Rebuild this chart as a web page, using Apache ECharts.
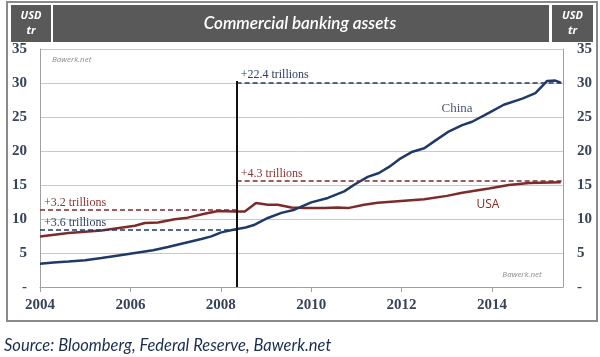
<!DOCTYPE html>
<html>
<head>
<meta charset="utf-8">
<script src="https://cdn.jsdelivr.net/npm/echarts@6/dist/echarts.min.js"></script>
<style>html,body{margin:0;padding:0;background:#fff}#c{width:600px;height:357px}</style>
</head>
<body>
<div id="c"></div>
<script>
// Decimal years and values (USD trillions)
var chinaYears = [2004.0,2004.3,2004.63,2005.0,2005.36,2005.7,2006.1,2006.5,2006.83,2007.2,2007.57,2007.79,2008.01,2008.3,2008.55,2008.75,2009.04,2009.34,2009.63,2010.0,2010.37,2010.73,2010.95,2011.25,2011.5,2011.73,2011.95,2012.24,2012.5,2012.76,2013.05,2013.34,2013.56,2013.93,2014.26,2014.67,2014.96,2015.22,2015.4,2015.52];
var chinaValues = [3.43,3.6,3.76,3.95,4.26,4.6,5.0,5.4,5.88,6.47,7.06,7.44,8.03,8.45,8.76,9.16,10.15,10.9,11.37,12.44,13.1,14.06,15.04,16.2,16.76,17.7,18.8,19.9,20.4,21.6,22.9,23.8,24.3,25.6,26.8,27.7,28.5,30.3,30.35,30.05];
var usaYears = [2004.0,2004.63,2005.36,2006.1,2006.32,2006.61,2006.98,2007.27,2007.64,2007.94,2008.3,2008.53,2008.78,2009.04,2009.26,2009.56,2009.85,2010.29,2010.58,2010.81,2011.17,2011.47,2012.06,2012.5,2013.0,2013.34,2013.93,2014.37,2014.82,2015.52];
var usaValues = [7.44,7.94,8.3,9.0,9.4,9.5,9.95,10.2,10.78,11.17,11.1,11.12,12.35,12.1,12.1,11.7,11.6,11.6,11.7,11.6,12.1,12.4,12.7,12.9,13.4,13.85,14.5,15.0,15.3,15.4];
var xTicks = [2004,2006,2008,2010,2012,2014];
var crisisYear = 2008.35;
var crisisTop = 30.3;
// reference lines
var refLabels = ['+3.2 trillions','+3.6 trillions','+4.3 trillions','+22.4 trillions'];
var refFrom = [2004, 2004, 2008.35, 2008.35];
var refTo = [2008.35, 2008.35, 2015.57, 2015.57];
var refValue = [11.35, 8.43, 15.6, 30.1];
var refKey = ['usa','china','usa','china'];

var NAVY = '#1f3a68', RED = '#7e2a2a', AX = '#36435a';
var xMin = 2004, xMax = 2015.57;

function pairs(xs, ys){ return xs.map(function(x,i){return [x, ys[i]];}); }

function refMark(key, extra){
  var d = [];
  refLabels.forEach(function(l,i){
    if(refKey[i]!==key) return;
    d.push([{coord:[refFrom[i], refValue[i]], name:l},{coord:[refTo[i], refValue[i]]}]);
  });
  if (extra) d = d.concat(extra);
  return {
    silent:true, symbol:['none','none'],
    lineStyle:{type:[5,3], width:1.6, color: key==='usa'?RED:NAVY},
    label:{show:true, position:'insideStartTop', distance:[4,1], formatter:'{b}',
      fontFamily:'Liberation Serif', fontSize:12, color: key==='usa'?'#8a3535':'#2c3f60'},
    data:d
  };
}

var crisisLine = [[
  {coord:[crisisYear, 0], name:'', lineStyle:{type:'solid', color:'#111', width:2}, label:{show:false}},
  {coord:[crisisYear, crisisTop]}
]];

var labelStyle = {fontFamily:'Liberation Serif', fontWeight:'bold', fontSize:15, color:AX};

var chart = echarts.init(document.getElementById('c'));
chart.setOption({
  animation:false,
  grid:{left:40, right:37, top:49, bottom:70},
  xAxis:{type:'value', min:xMin, max:xMax,
    axisLine:{show:true, lineStyle:{color:'#a0a0a0', width:1}},
    axisTick:{show:true, customValues:xTicks, length:5, lineStyle:{color:'#a0a0a0'}},
    axisLabel:Object.assign({customValues:xTicks, margin:11, formatter:function(v){return String(v);}}, labelStyle),
    splitLine:{show:false}},
  yAxis:[
    {type:'value', min:0, max:35, interval:5, position:'left',
      axisLine:{show:true, lineStyle:{color:'#a0a0a0'}}, axisTick:{show:false},
      axisLabel:Object.assign({margin:13, formatter:function(v){return v===0?'-':String(v);}}, labelStyle),
      splitLine:{show:true, lineStyle:{color:'#c8c8c8', width:1}}},
    {type:'value', min:0, max:35, interval:5, position:'right',
      axisLine:{show:true, lineStyle:{color:'#a0a0a0'}}, axisTick:{show:false},
      axisLabel:Object.assign({margin:14, formatter:function(v){return v===0?'-':String(v);}}, labelStyle),
      splitLine:{show:false}}
  ],
  series:[
    {name:'USA', type:'line', data:pairs(usaYears, usaValues), showSymbol:false,
      lineStyle:{color:RED, width:2.5}, itemStyle:{color:RED}, z:3,
      markLine:refMark('usa')},
    {name:'China', type:'line', data:pairs(chinaYears, chinaValues), showSymbol:false,
      lineStyle:{color:NAVY, width:2.5}, itemStyle:{color:NAVY}, z:4,
      markLine:refMark('china', crisisLine)}
  ],
  graphic:[
    {type:'rect', shape:{x:7,y:2,width:590,height:319}, style:{fill:'none', stroke:'#8a8a8a', lineWidth:2}, z:-1},
    {type:'rect', shape:{x:11,y:5,width:40,height:37}, style:{fill:'#595959'}},
    {type:'rect', shape:{x:53,y:5,width:496,height:37}, style:{fill:'#595959'}},
    {type:'rect', shape:{x:552,y:5,width:41,height:37}, style:{fill:'#595959'}},
    {type:'text', x:31, y:23.5, style:{text:'USD\ntr', fill:'#fff', font:'italic bold 11px "Open Sans"', align:'center', verticalAlign:'middle', lineHeight:15}},
    {type:'text', x:572.5, y:23.5, style:{text:'USD\ntr', fill:'#fff', font:'italic bold 11px "Open Sans"', align:'center', verticalAlign:'middle', lineHeight:15}},
    {type:'text', x:300, y:23.5, style:{text:'Commercial banking assets', fill:'#fff', font:'italic 600 17px Lato', align:'center', verticalAlign:'middle'}},
    {type:'text', x:52, y:60, style:{text:'Bawerk.net', fill:'#8a8a8a', font:'italic 8px "Open Sans"', align:'left', verticalAlign:'middle'}},
    {type:'text', x:522, y:275, style:{text:'Bawerk.net', fill:'#8a8a8a', font:'italic 8px "Open Sans"', align:'center', verticalAlign:'middle'}},
    {type:'text', x:457, y:109, style:{text:'China', fill:'#4a5a78', font:'13px "Liberation Serif"', align:'center', verticalAlign:'middle'}},
    {type:'text', x:488, y:205, style:{text:'USA', fill:'#7e2a2a', font:'12px "Open Sans"', align:'center', verticalAlign:'middle'}},
    {type:'text', x:4, y:346, style:{text:'Source: Bloomberg, Federal Reserve, Bawerk.net', fill:'#1c2d4f', font:'italic 16.5px Lato', align:'left', verticalAlign:'middle'}}
  ]
});
</script>
</body>
</html>
